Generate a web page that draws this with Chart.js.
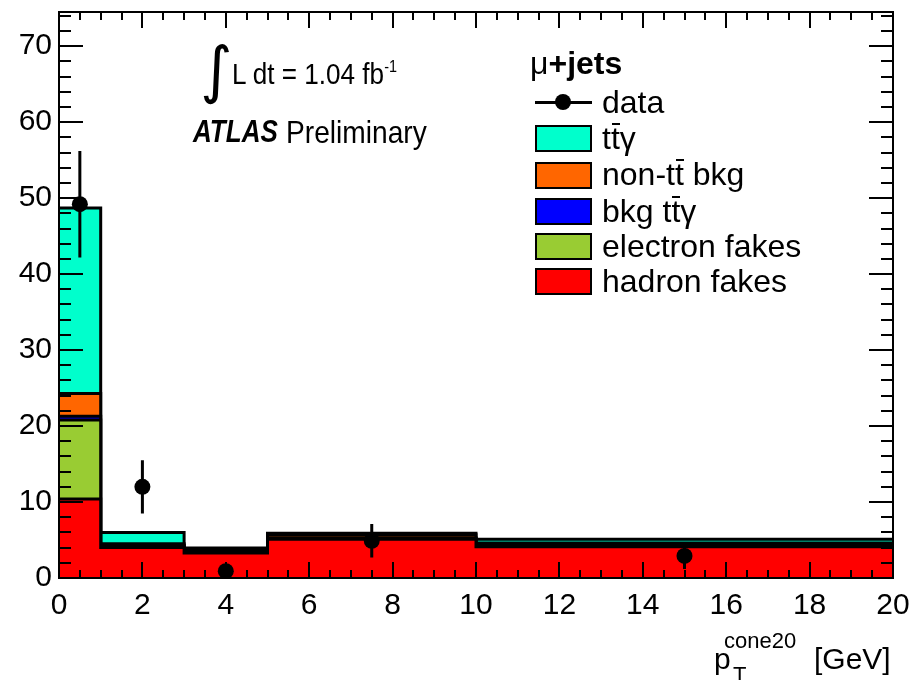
<!DOCTYPE html>
<html>
<head>
<meta charset="utf-8">
<script src="https://cdn.jsdelivr.net/npm/chart.js@4"></script>
<style>
  body { margin: 0; background: #fff; }
  #contenedor { position: relative; width: 912px; height: 680px; font-family: "Liberation Sans", Arial, sans-serif; color: #000; }
  .texto { position: absolute; white-space: nowrap; line-height: 1; transform-origin: left top; }
  .ov { position: relative; }
  .ov::after { content: ""; position: absolute; left: 1px; right: 0; top: 3px; border-top: 2px solid #000; }
  .muestra { position: absolute; left: 535px; width: 53px; height: 23px; border: 2px solid #000; }
</style>
</head>
<body>
<div id="contenedor">
  <canvas id="graficoPtCone" width="912" height="680"></canvas>

  <!-- luminosidad y etiqueta ATLAS -->
  <span class="texto" style="left:200px; top:39px; font-size:62px; font-family:'DejaVu Sans';">∫</span>
  <span class="texto" style="left:232px; top:59px; font-size:29px; transform:scaleX(0.9);">L dt = 1.04 fb<sup style="font-size:16px; vertical-align:12px;">-1</sup></span>
  <span class="texto" style="left:193px; top:116px; font-size:31px; font-weight:bold; font-style:italic; transform:scaleX(0.84);">ATLAS</span>
  <span class="texto" style="left:286px; top:116px; font-size:32px; transform:scaleX(0.88);">Preliminary</span>

  <!-- leyenda -->
  <span class="texto" style="left:530px; top:47px; font-size:32px;">μ<b>+jets</b></span>
  <div style="position:absolute; left:535px; top:101px; width:57px; height:3px; background:#000;"></div>
  <div style="position:absolute; left:555px; top:94px; width:16px; height:16px; border-radius:50%; background:#000;"></div>
  <span class="texto" style="left:602px; top:86px; font-size:32px;">data</span>

  <div class="muestra" style="top:125px; background:#00ffcc;"></div>
  <span class="texto" style="left:602px; top:122px; font-size:32px;">t<span class="ov">t</span>γ</span>
  <div class="muestra" style="top:162px; background:#ff6600;"></div>
  <span class="texto" style="left:602px; top:158px; font-size:32px;">non-t<span class="ov">t</span> bkg</span>
  <div class="muestra" style="top:198px; background:#0000ff;"></div>
  <span class="texto" style="left:602px; top:195px; font-size:32px;">bkg t<span class="ov">t</span>γ</span>
  <div class="muestra" style="top:233px; background:#99cc33;"></div>
  <span class="texto" style="left:602px; top:230px; font-size:32px;">electron fakes</span>
  <div class="muestra" style="top:268px; background:#ff0000;"></div>
  <span class="texto" style="left:602px; top:265px; font-size:32px;">hadron fakes</span>

  <!-- titulo eje x -->
  <span class="texto" style="left:714px; top:644px; font-size:30px;">p</span>
  <span class="texto" style="left:724px; top:630px; font-size:22px;">cone20</span>
  <span class="texto" style="left:733px; top:664px; font-size:22px;">T</span>
  <span class="texto" style="left:814px; top:644px; font-size:30px;">[GeV]</span>
</div>

<script>
// Bordes de los bins en pT (GeV)
const bordesBins = [0, 1, 3, 5, 10, 20];

// Contribuciones apiladas (de abajo hacia arriba)
const hadronFakes = [10.4, 4.0, 3.3, 5.1, 4.1];
const electronFakes = [10.4, 0.2, 0.1, 0.1, 0.1];
const bkgTtGamma = [0.5, 0.1, 0.1, 0.1, 0.1];
const nonTtBkg = [3.0, 0.2, 0.3, 0.4, 0.3];
const ttGamma = [24.4, 1.5, 0.15, 0.2, 0.5];

// Datos con barras de error
const datosX = [0.5, 2, 4, 7.5, 15];
const datosY = [49.2, 12.0, 0.9, 4.9, 2.9];
const datosError = [7.0, 3.5, 0.95, 2.2, 1.7];

// Marcas de los ejes
const ticksX = [0, 2, 4, 6, 8, 10, 12, 14, 16, 18, 20];
const ticksY = [0, 10, 20, 30, 40, 50, 60, 70];

function escalon(valores) {
  // el ultimo valor se repite para cerrar el bin final
  return bordesBins.map((b, i) => ({ x: b, y: valores[Math.min(i, valores.length - 1)] }));
}

function capa(nombre, valores, color, relleno) {
  return {
    label: nombre,
    data: escalon(valores),
    stepped: true,
    fill: relleno,
    backgroundColor: color,
    borderColor: "#000",
    borderWidth: 3,
    pointRadius: 0
  };
}

// Marco con ticks hacia dentro, estilo ROOT
const marcoRoot = {
  id: "marcoRoot",
  afterDatasetsDraw(chart) {
    const { ctx, chartArea: a, scales } = chart;
    ctx.save();
    ctx.strokeStyle = "#000";
    ctx.lineWidth = 2;
    ctx.beginPath();
    for (let v = 0; v <= 20; v += 0.5) {
      const px = Math.round(scales.x.getPixelForValue(v));
      const largo = v % 2 === 0 ? 16 : 8;
      ctx.moveTo(px, a.bottom); ctx.lineTo(px, a.bottom - largo);
      ctx.moveTo(px, a.top); ctx.lineTo(px, a.top + largo);
    }
    for (let v = 0; v <= 74; v += 2) {
      const py = Math.round(scales.y.getPixelForValue(v));
      const largo = v % 10 === 0 ? 24 : 12;
      ctx.moveTo(a.left, py); ctx.lineTo(a.left + largo, py);
      ctx.moveTo(a.right, py); ctx.lineTo(a.right - largo, py);
    }
    ctx.stroke();
    ctx.strokeRect(a.left, a.top, a.width, a.height);

    // barras de error de los datos
    ctx.lineWidth = 3;
    ctx.beginPath();
    datosX.forEach((x, i) => {
      const px = scales.x.getPixelForValue(x);
      ctx.moveTo(px, scales.y.getPixelForValue(datosY[i] - datosError[i]));
      ctx.lineTo(px, scales.y.getPixelForValue(datosY[i] + datosError[i]));
    });
    ctx.stroke();
    ctx.restore();
  }
};

new Chart(document.getElementById("graficoPtCone"), {
  type: "line",
  data: {
    datasets: [
      capa("hadron fakes", hadronFakes, "#ff0000", "origin"),
      capa("electron fakes", electronFakes, "#99cc33", "-1"),
      capa("bkg ttγ", bkgTtGamma, "#0000ff", "-1"),
      capa("non-tt bkg", nonTtBkg, "#ff6600", "-1"),
      capa("ttγ", ttGamma, "#00ffcc", "-1"),
      {
        label: "data",
        data: datosX.map((x, i) => ({ x: x, y: datosY[i] })),
        stack: "datos",
        order: -1,
        showLine: false,
        pointRadius: 8,
        pointBackgroundColor: "#000",
        pointBorderColor: "#000",
        pointBorderWidth: 0
      }
    ]
  },
  options: {
    responsive: false,
    animation: false,
    devicePixelRatio: 1,
    events: [],
    layout: { padding: { top: 12, right: 19, left: 0, bottom: 0 } },
    plugins: {
      legend: { display: false },
      tooltip: { enabled: false }
    },
    scales: {
      x: {
        type: "linear",
        min: 0,
        max: 20,
        grid: { display: false, drawTicks: false },
        border: { display: false },
        afterBuildTicks: s => { s.ticks = ticksX.map(v => ({ value: v })); },
        afterFit: s => { s.height = 102; s.paddingLeft = 0; s.paddingRight = 0; },
        ticks: { color: "#000", padding: 10, maxRotation: 0, font: { family: "Liberation Sans", size: 30 } }
      },
      y: {
        stacked: true,
        min: 0,
        max: 74.5,
        grid: { display: false, drawTicks: false },
        border: { display: false },
        afterBuildTicks: s => { s.ticks = ticksY.map(v => ({ value: v })); },
        afterFit: s => { s.width = 59; s.paddingTop = 0; s.paddingBottom = 0; },
        ticks: { color: "#000", padding: 7, font: { family: "Liberation Sans", size: 30 } }
      }
    }
  },
  plugins: [marcoRoot]
});
</script>
</body>
</html>
